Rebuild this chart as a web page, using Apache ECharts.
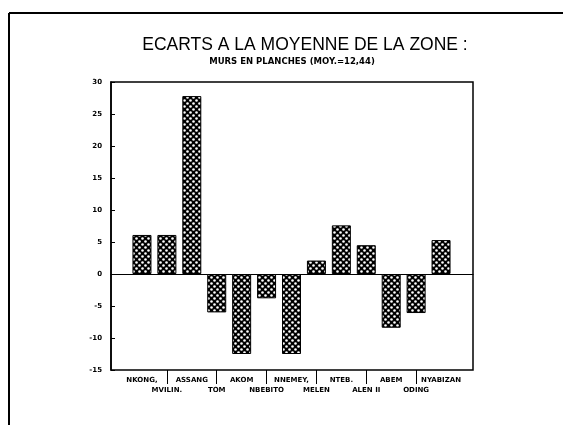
<!DOCTYPE html>
<html>
<head>
<meta charset="utf-8">
<script src="https://cdn.jsdelivr.net/npm/echarts@6/dist/echarts.min.js"></script>
<style>
html,body{margin:0;padding:0;background:#fff;}
#c{width:563px;height:425px;}
</style>
</head>
<body>
<div id="c"></div>
<script>
var categories = ['NKONG,', 'MVILIN.', 'ASSANG', 'TOM', 'AKOM', 'NBEBITO', 'NNEMEY,', 'MELEN', 'NTEB.', 'ALEN II', 'ABEM', 'ODING', 'NYABIZAN'];
var ecarts = [6.1, 6.1, 27.8, -6.0, -12.5, -3.8, -12.5, 2.1, 7.6, 4.5, -8.4, -6.1, 5.3];
var yMin = -15, yMax = 30, yStep = 5;
var titleText = 'ECARTS A LA MOYENNE DE LA ZONE :';
var subTitleText = 'MURS EN PLANCHES (MOY.=12,44)';

function makePattern() {
  var c = document.createElement('canvas');
  c.width = 6; c.height = 6;
  var ctx = c.getContext('2d');
  ctx.fillStyle = '#000';
  ctx.fillRect(0, 0, 6, 6);
  ctx.fillStyle = '#fff';
  ctx.beginPath(); ctx.arc(1.5, 1.5, 1.3, 0, Math.PI * 2); ctx.fill();
  ctx.beginPath(); ctx.arc(4.5, 4.5, 1.3, 0, Math.PI * 2); ctx.fill();
  return c;
}

var chart = echarts.init(document.getElementById('c'), null, {renderer: 'canvas'});
var lblFont = {fontFamily: 'DejaVu Sans, sans-serif', fontWeight: 'bold', fontSize: 7, color: '#000'};

chart.setOption({
  animation: false,
  backgroundColor: '#fff',
  title: [
    {text: titleText, left: 300, top: 31, textAlign: 'center', textStyle: {fontFamily: 'Liberation Sans, Arial, sans-serif', fontWeight: 'normal', fontSize: 17.5, color: '#000'}},
    {text: subTitleText, left: 287, top: 52, textAlign: 'center', textStyle: {fontFamily: 'DejaVu Sans, sans-serif', fontWeight: 'bold', fontSize: 8.5, color: '#000'}}
  ],
  graphic: [
    {type: 'line', shape: {x1: 9, y1: 13, x2: 563, y2: 13}, style: {stroke: '#000', lineWidth: 2}},
    {type: 'line', shape: {x1: 9, y1: 13, x2: 9, y2: 425}, style: {stroke: '#000', lineWidth: 2}}
  ],
  grid: [
    {left: 111, right: 90, top: 82, bottom: 55, show: true, borderColor: '#000', borderWidth: 1.5, backgroundColor: 'transparent'},
    {left: 129.5, right: 109.5, top: 82, bottom: 55}
  ],
  xAxis: [
    {gridIndex: 0, type: 'value', min: 0, max: 1,
     axisLine: {show: true, onZero: true, lineStyle: {color: '#000', width: 1.2}},
     axisTick: {show: false}, axisLabel: {show: false}, splitLine: {show: false}},
    {gridIndex: 1, type: 'category', data: categories, position: 'bottom',
     axisLine: {show: false, onZero: false},
     axisTick: {show: true, alignWithLabel: true, length: 14, lineStyle: {color: '#000', width: 1},
       interval: function (i) { return i % 2 === 1; }},
     axisLabel: Object.assign({interval: 0, margin: 5, lineHeight: 10,
       formatter: function (v, i) { return i % 2 === 1 ? '\n' + v : v; }}, lblFont)}
  ],
  yAxis: [
    {gridIndex: 0, type: 'value', min: yMin, max: yMax, interval: yStep,
     axisLine: {show: true, onZero: false, lineStyle: {color: '#000', width: 1.5}},
     axisTick: {show: true, inside: true, length: 4, lineStyle: {color: '#000'}},
     axisLabel: Object.assign({margin: 9}, lblFont),
     splitLine: {show: false}},
    {gridIndex: 1, type: 'value', min: yMin, max: yMax, interval: yStep, show: false, splitLine: {show: false}}
  ],
  series: [{
    type: 'bar', xAxisIndex: 1, yAxisIndex: 1, data: ecarts, barWidth: 19,
    itemStyle: {color: {image: makePattern(), repeat: 'repeat'}, borderColor: '#000', borderWidth: 1}
  }]
});
</script>
</body>
</html>
